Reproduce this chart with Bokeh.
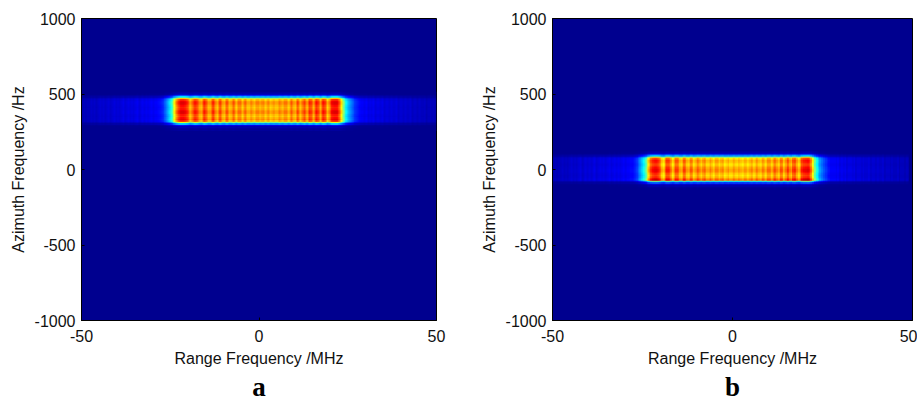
import numpy as np
from bokeh.embed import file_html
from bokeh.resources import INLINE
from bokeh.plotting import figure
from bokeh.layouts import row
from bokeh.models import LinearColorMapper, FixedTicker, Title, Range1d

x_ticks = [-50, 0, 50]
y_ticks = [-1000, -500, 0, 500, 1000]
x_title = "Range Frequency /MHz"
y_title = "Azimuth Frequency /Hz"
panels = ["a", "b"]

# Range profile read along each band, -50..50 MHz in 0.5 MHz steps
side_left = [.04,.05,.04,.05,.05,.06,.05,.06,.05,.06,.07,.06,.07,.06,.07,.08,.06,.07,.08,.07,.08,.07,
             .08,.09,.07,.08,.09,.08,.09,.08,.09,.10,.08,.09,.10,.09,.10,.09,.10,.11,.10,.11,.11,.12]
side_right = [.11,.11,.10,.11,.09,.10,.09,.10,.08,.09,.09,.08,.09,.07,.08,.08,.07,.08,.07,.07,.08,.06,
              .07,.07,.06,.07,.06,.06,.07,.05,.06,.06,.05,.06,.05,.05,.06,.04,.05,.05,.04,.05,.04]
range_a = side_left + [
 .13,.15,.18,.22,.28,.34,.42,.52,.64,.76,.84,.89,.90,.90,.88,.84,.76,.72,.78,.85,.86,.82,.74,.72,.80,.85,.80,.72,
 .73,.82,.84,.75,.71,.80,.82,.73,.71,.80,.79,.71,.73,.80,.75,.70,.77,.77,.70,.75,.78,.71,.71,.77,.73,.70,.75,.75,
 .70,.74,.75,.70,.73,.75,.70,.72,.75,.71,.71,.76,.73,.70,.76,.76,.70,.73,.79,.73,.71,.81,.77,.71,.77,.82,.75,.73,
 .84,.82,.73,.79,.86,.82,.73,.82,.86,.82,.70,.76,.86,.89,.90,.90,.88,.80,.66,.52,.42,.36,.30,.26,.22,.18,.16,.14,.12
] + side_right
range_b = side_left + [
 .12,.14,.17,.20,.26,.32,.38,.46,.58,.70,.82,.87,.89,.90,.88,.83,.72,.68,.77,.85,.85,.78,.69,.73,.82,.82,.73,.71,
 .81,.82,.73,.71,.79,.79,.70,.73,.79,.75,.69,.75,.78,.71,.71,.77,.73,.69,.75,.75,.69,.73,.75,.69,.71,.75,.70,.70,
 .74,.71,.69,.73,.71,.69,.73,.73,.69,.72,.75,.70,.71,.76,.72,.70,.76,.74,.70,.77,.77,.71,.75,.80,.75,.71,.80,.80,
 .71,.76,.83,.76,.71,.82,.84,.76,.70,.75,.85,.88,.89,.90,.88,.80,.66,.50,.40,.34,.28,.24,.20,.17,.15,.13,.11
] + side_right

# Azimuth profile across each band, 10 Hz per row
az_a_hz = [260 + 10*i for i in range(26)]
az_a = [.02,.03,.05,.14,.36,.68,.94,1.0,.96,.92,.95,1.0,1.0,.98,.95,.93,.96,.99,1.0,.98,.92,.70,.38,.16,.04,.02]
az_b_hz = [-130 + 10*i for i in range(26)]
az_b = [.01,.02,.04,.10,.24,.56,1.04,.98,.93,.90,.94,.98,1.0,1.0,.97,.93,.91,.93,.96,.97,.90,.66,.34,.12,.04,.02]

x_step = 0.5
y_step = 10

# jet colour map
jet_stops = [(0.0,0,0,143),(0.11,0,0,255),(0.365,0,255,255),(0.62,255,255,0),(0.87,255,0,0),(1.0,128,0,0)]
t = np.linspace(0, 1, 256)
arr = [np.interp(t, [s[0] for s in jet_stops], [s[i] for s in jet_stops]).astype(int) for i in (1,2,3)]
jet = ["#%02x%02x%02x" % (r, g, b) for r, g, b in zip(*arr)]
mapper = LinearColorMapper(palette=jet, low=0, high=1)

def panel(rng, az, az_hz, name, left, right, fw):
    p = figure(width=left+fw+right, height=400, output_backend="svg", toolbar_location=None,
               x_range=Range1d(-50, 50), y_range=Range1d(-1000, 1000),
               frame_width=fw, frame_height=302, min_border_left=left, min_border_right=right,
               min_border_top=18, min_border_bottom=80, background_fill_color="#00008f",
               outline_line_color="black", border_fill_color="white")
    p.grid.visible = False
    r = np.asarray(rng, float)
    a = np.asarray(az, float)
    img = np.outer(a, r)
    p.image(image=[img], x=-50, y=az_hz[0]-y_step/2, dw=len(r)*x_step, dh=len(a)*y_step, color_mapper=mapper)
    for ax, ticks in ((p.xaxis[0], x_ticks), (p.yaxis[0], y_ticks)):
        ax.ticker = FixedTicker(ticks=ticks)
        ax.major_label_overrides = {v: str(v) for v in ticks}
        ax.major_tick_in = 3; ax.major_tick_out = 0; ax.minor_tick_line_color = None
        ax.major_label_text_font = "Liberation Sans"
        ax.major_label_text_font_size = "16px"
        ax.major_label_text_color = "#111111"
        ax.axis_label_text_font = "Liberation Sans"
        ax.axis_label_text_font_size = "16px"
        ax.axis_label_text_font_style = "normal"
        ax.axis_label_text_color = "#111111"
        ax.axis_line_color = "black"; ax.major_tick_line_color = "black"
    p.xaxis[0].major_label_standoff = 9
    p.yaxis[0].major_label_standoff = 6
    p.xaxis[0].axis_label = x_title
    p.yaxis[0].axis_label = y_title
    p.xaxis[0].axis_label_standoff = 5
    p.yaxis[0].axis_label_standoff = 5
    t = Title(text=name, text_font="Liberation Serif", text_font_style="bold",
              text_font_size="27px", align="center", text_color="black", standoff=0)
    p.add_layout(t, "below")
    return p

p1 = panel(range_a, az_a, az_a_hz, panels[0], 81, 32, 355)
p2 = panel(range_b, az_b, az_b_hz, panels[1], 84, 5, 360)
layout = row(p1, p2, spacing=0)
open("out.html", "w").write(file_html(layout, INLINE))
